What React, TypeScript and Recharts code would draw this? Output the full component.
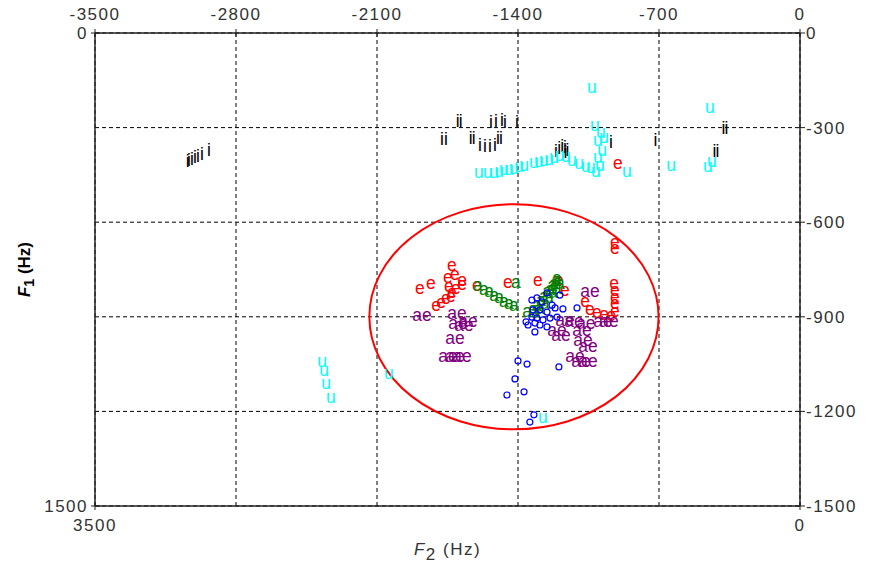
import React from "react";
import { ScatterChart, Scatter, XAxis, YAxis, CartesianGrid, ReferenceArea } from "recharts";

// formant readings, [F2, F1] in Hz
const iPoints: [number, number][] = [
  [3040, 408], [3034, 403], [3019, 400], [3004, 396], [2989, 390], [2969, 384], [2934, 371],
  [1778, 336], [1758, 336], [1700, 279], [1685, 279], [1635, 333], [1620, 333],
  [1589, 358], [1564, 361], [1539, 361], [1514, 358],
  [1534, 282], [1509, 279], [1480, 276], [1465, 282], [1500, 335], [1485, 335], [1405, 282],
  [1211, 374], [1195, 365], [1180, 360], [1167, 362], [1155, 372], [1165, 380],
  [938, 346], [718, 342], [380, 304], [365, 304], [425, 377], [410, 377],
];

const uPoints: [number, number][] = [
  [1033, 174], [447, 235],
  [1018, 292], [988, 314], [973, 330], [1003, 342], [983, 371], [1003, 396], [993, 419], [1013, 438],
  [859, 438], [640, 419], [457, 422], [437, 406],
  [1594, 441], [1549, 441], [1519, 441], [1494, 438], [1470, 434], [1445, 431], [1420, 428],
  [1395, 422], [1370, 419], [1321, 409], [1296, 406], [1271, 403], [1246, 400], [1221, 393],
  [1192, 387], [1162, 390], [1132, 403], [1097, 415], [1063, 422], [1038, 425],
  [2373, 1043], [2363, 1069], [2353, 1110], [2329, 1157], [2041, 1078], [1276, 1218],
];

const ePoints: [number, number][] = [
  [919, 663], [919, 682], [904, 412],
  [1728, 736], [1748, 774], [1713, 767], [1678, 783], [1887, 809], [1832, 793], [1743, 805],
  [1708, 809], [1678, 796], [1728, 824], [1604, 799],
  [1807, 863], [1782, 853], [1758, 843], [1733, 834],
  [1450, 790], [1301, 786], [1197, 786], [1167, 815],
  [923, 793], [919, 815], [919, 837], [919, 859], [919, 882],
  [1067, 850], [1043, 875], [1008, 885], [973, 891], [938, 897],
];

const aePoints: [number, number][] = [
  [1877, 897], [1703, 888], [1698, 920], [1668, 926], [1648, 916], [1713, 967],
  [1748, 1024], [1713, 1024], [1678, 1024],
  [1043, 818], [1167, 913], [1122, 916], [1206, 942], [1187, 958], [1082, 942], [1077, 974],
  [978, 916], [948, 916], [1063, 920], [1053, 993], [1117, 1024], [1087, 1040], [1053, 1043],
];

const aPoints: [number, number][] = [
  [1599, 799], [1569, 812], [1544, 821], [1519, 831], [1494, 840], [1470, 850], [1445, 856],
  [1420, 863], [1410, 790], [1355, 882],
  [1326, 875], [1306, 863], [1286, 847], [1271, 834], [1256, 821], [1241, 812], [1231, 802],
  [1221, 793], [1211, 786], [1207, 777],
  [1311, 885], [1291, 872], [1266, 856], [1246, 840], [1226, 824], [1207, 809], [1192, 793],
];

const oPoints: [number, number][] = [
  [1256, 824], [1192, 831], [1331, 847], [1306, 840], [1281, 853], [1231, 863], [1216, 872],
  [1177, 875], [1107, 872], [1326, 878], [1291, 878], [1256, 885], [1331, 901], [1306, 904],
  [1276, 910], [1241, 904], [1206, 901], [1350, 926], [1316, 920], [1291, 926], [1256, 932],
  [1316, 948], [1360, 916],
  [1400, 1040], [1355, 1050], [1415, 1097], [1370, 1138], [1455, 1148], [1321, 1211],
  [1341, 1234], [1197, 1059],
];

// circled region: F2 and F1 extents
const ringF2: [number, number] = [2138, 702];
const ringF1: [number, number] = [543, 1257];

const topTicks = [3500, 2800, 2100, 1400, 700, 0];
const bottomTicks = [3500, 0];
const leftTicks = [0, 1500];
const rightTicks = [0, 300, 600, 900, 1200, 1500];

const FONT = "Liberation Sans, Arial, sans-serif";
const toRows = (pts: [number, number][]) => pts.map(([f2, f1]) => ({ f2, f1 }));

const AxisTick = (props: any) => {
  const { x, y, payload, orient, fmt } = props;
  const label = fmt ? fmt(payload.value) : String(payload.value);
  const common = { fontFamily: FONT, fontSize: 17, fill: "#333", letterSpacing: 1.5 };
  if (orient === "top" || orient === "bottom") {
    return (
      <g>
        <line x1={x} y1={y - 4} x2={x} y2={y + 4} stroke="#222" />
        <text x={x} y={orient === "top" ? y - 13 : y + 25} textAnchor="middle" {...common}>
          {label}
        </text>
      </g>
    );
  }
  return (
    <g>
      <line x1={x - 4} y1={y} x2={x + 5} y2={y} stroke="#222" />
      <text
        x={orient === "left" ? x - 7 : x + 6}
        y={y + 6}
        textAnchor={orient === "left" ? "end" : "start"}
        {...common}
      >
        {label}
      </text>
    </g>
  );
};

const glyph = (label: string, color: string) => (p: any) => (
  <text x={p.cx} y={p.cy} dy="0.32em" textAnchor="middle" fill={color} fontSize={17.5} fontFamily={FONT}>
    {label}
  </text>
);

const ring = (p: any) => {
  const cx = p.x + p.width / 2;
  const cy = p.y + p.height / 2;
  return (
    <ellipse cx={cx} cy={cy} rx={Math.abs(p.width) / 2} ry={Math.abs(p.height) / 2}
      fill="none" stroke="#ff0000" strokeWidth={2} />
  );
};

const axisLine = { stroke: "#222", strokeWidth: 1.5 };

export default function App() {
  return (
    <div style={{ position: "absolute", left: 0, top: 0, width: 870, height: 563, background: "#fff" }}>
      <ScatterChart width={870} height={563} margin={{ top: 0, right: 0, bottom: 0, left: 0 }}>
        <CartesianGrid xAxisId="top" yAxisId="right" stroke="#000" strokeDasharray="4 3" />
        <XAxis
          xAxisId="top" orientation="top" type="number" dataKey="f2" domain={[0, 3500]} reversed
          allowDataOverflow ticks={topTicks} interval={0} height={33} tickSize={0} tickMargin={0}
          axisLine={axisLine} tickLine={false}
          tick={(p: any) => <AxisTick {...p} orient="top" fmt={(v: number) => (v === 0 ? "0" : `-${v}`)} />}
        />
        <XAxis
          xAxisId="bottom" orientation="bottom" type="number" dataKey="f2" domain={[0, 3500]} reversed
          allowDataOverflow ticks={bottomTicks} interval={0} height={57} tickSize={0} tickMargin={0}
          axisLine={axisLine} tickLine={false}
          tick={(p: any) => <AxisTick {...p} orient="bottom" />}
          label={{
            content: (lp: any) => {
              const vb = lp.viewBox;
              return (
                <text x={vb.x + vb.width / 2} y={vb.y + 49} textAnchor="middle" fontFamily={FONT}
                  fontSize={17} fill="#333" letterSpacing={1.5}>
                  <tspan fontStyle="italic">F</tspan>
                  <tspan dy={5}>2</tspan>
                  <tspan dy={-5}> (Hz)</tspan>
                </text>
              );
            },
          }}
        />
        <YAxis
          yAxisId="left" orientation="left" type="number" dataKey="f1" domain={[0, 1500]} reversed
          allowDataOverflow ticks={leftTicks} interval={0} width={95} tickSize={0} tickMargin={0}
          axisLine={axisLine} tickLine={false}
          tick={(p: any) => <AxisTick {...p} orient="left" />}
          label={{
            content: (lp: any) => {
              const vb = lp.viewBox;
              const cy = vb.y + vb.height / 2;
              return (
                <text x={30} y={cy} transform={`rotate(-90 30 ${cy})`} textAnchor="middle"
                  fontFamily={FONT} fontSize={17} fontWeight="bold" fill="#000">
                  <tspan fontStyle="italic">F</tspan>
                  <tspan dy={4} fontSize={14}>1</tspan>
                  <tspan dy={-4}> (Hz)</tspan>
                </text>
              );
            },
          }}
        />
        <YAxis
          yAxisId="right" orientation="right" type="number" dataKey="f1" domain={[0, 1500]} reversed
          allowDataOverflow ticks={rightTicks} interval={0} width={70} tickSize={0} tickMargin={0}
          axisLine={axisLine} tickLine={false}
          tick={(p: any) => <AxisTick {...p} orient="right" fmt={(v: number) => (v === 0 ? "0" : `-${v}`)} />}
        />
        <Scatter xAxisId="bottom" yAxisId="left" data={toRows(iPoints)} shape={glyph("i", "#000")} isAnimationActive={false} />
        <Scatter xAxisId="bottom" yAxisId="left" data={toRows(uPoints)} shape={glyph("u", "#00ffff")} isAnimationActive={false} />
        <Scatter xAxisId="bottom" yAxisId="left" data={toRows(ePoints)} shape={glyph("e", "#ff0000")} isAnimationActive={false} />
        <Scatter xAxisId="bottom" yAxisId="left" data={toRows(aePoints)} shape={glyph("ae", "#800080")} isAnimationActive={false} />
        <Scatter xAxisId="bottom" yAxisId="left" data={toRows(aPoints)} shape={glyph("a", "#008000")} isAnimationActive={false} />
        <Scatter
          xAxisId="bottom" yAxisId="left" data={toRows(oPoints)} isAnimationActive={false}
          shape={(p: any) => <circle cx={p.cx} cy={p.cy} r={3} fill="none" stroke="#0000ff" strokeWidth={1.2} />}
        />
        <ReferenceArea
          xAxisId="bottom" yAxisId="left" x1={ringF2[0]} x2={ringF2[1]} y1={ringF1[0]} y2={ringF1[1]}
          shape={ring} ifOverflow="visible"
        />
      </ScatterChart>
    </div>
  );
}
